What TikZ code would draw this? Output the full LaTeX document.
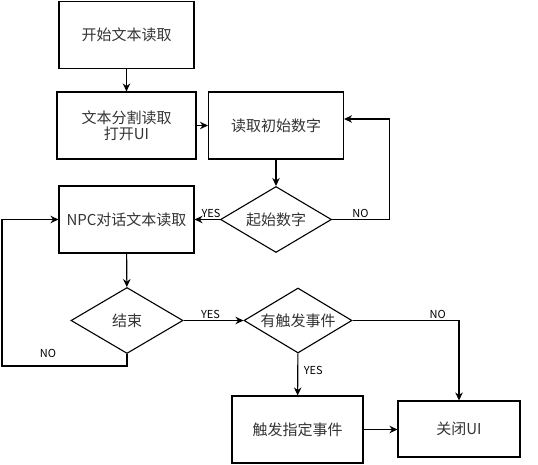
\documentclass[tikz,border=0pt]{standalone}
\usepackage{fontspec}
\setmainfont{Noto Sans CJK SC}
\usetikzlibrary{shapes.geometric,arrows.meta}

\begin{document}
\begin{tikzpicture}[
  x=1pt, y=-1pt,
  every node/.style={font=\fontsize{15}{17}\selectfont, text=black!80},
  box/.style={draw, line width=1.1pt, rectangle, minimum width=135pt, minimum height=67pt, align=center, inner sep=2pt},
  test/.style={draw, line width=1.1pt, diamond, aspect=1.68, minimum width=111pt, minimum height=66pt, inner sep=0pt},
  arr/.style={line width=1.1pt, -{Stealth[length=8pt,width=7.5pt]}},
  lbl/.style={font=\fontsize{11}{12}\selectfont, text=black, inner sep=1.5pt}
]
\useasboundingbox (0,0) rectangle (538,465);

\node[box] (start) at (126.5,35) {开始文本读取};
\node[box, minimum width=139pt] (split) at (126.5,125.5) {文本分割读取\\[-1pt]打开UI};
\node[box] (readnum) at (276,125.5) {读取初始数字};
\node[test] (isstart) at (276,219.5) {起始数字};
\node[box] (npc) at (126.5,219.5) {NPC对话文本读取};
\node[test, minimum width=112pt] (isend) at (127,320.5) {结束};
\node[test, minimum width=108pt, minimum height=65pt] (hasevt) at (298,320.5) {有触发事件};
\node[box, minimum width=131pt] (fire) at (297.5,429.5) {触发指定事件};
\node[box, minimum width=122pt, minimum height=56pt] (close) at (459,429) {关闭UI};
\coordinate (loopL) at (2,366);

\draw[arr] (start) -- (split);
\draw[arr] (split) -- (readnum);
\draw[arr] (readnum) -- (isstart);
\draw[arr] (isstart) -- node[lbl, above, pos=0.35] {YES} (npc);
\draw[arr] (isstart.east) -- node[lbl, above] {NO} ++(57,0) |- ([yshift=6.5pt]readnum.east);
\draw[arr] (npc) -- (isend);
\draw[arr] (isend.south) |- (loopL) |- (npc.west);
\node[lbl] (noend) at (48,353) {NO};
\draw[arr] (isend) -- node[lbl, above, pos=0.45] {YES} (hasevt);
\draw[arr] (hasevt) -| node[lbl, above, pos=0.4] {NO} (close);
\draw[arr] (hasevt) -- node[lbl, right, pos=0.4, xshift=4pt] {YES} (fire);
\draw[arr] (fire) -- (close.west |- fire);
\end{tikzpicture}
\end{document}
